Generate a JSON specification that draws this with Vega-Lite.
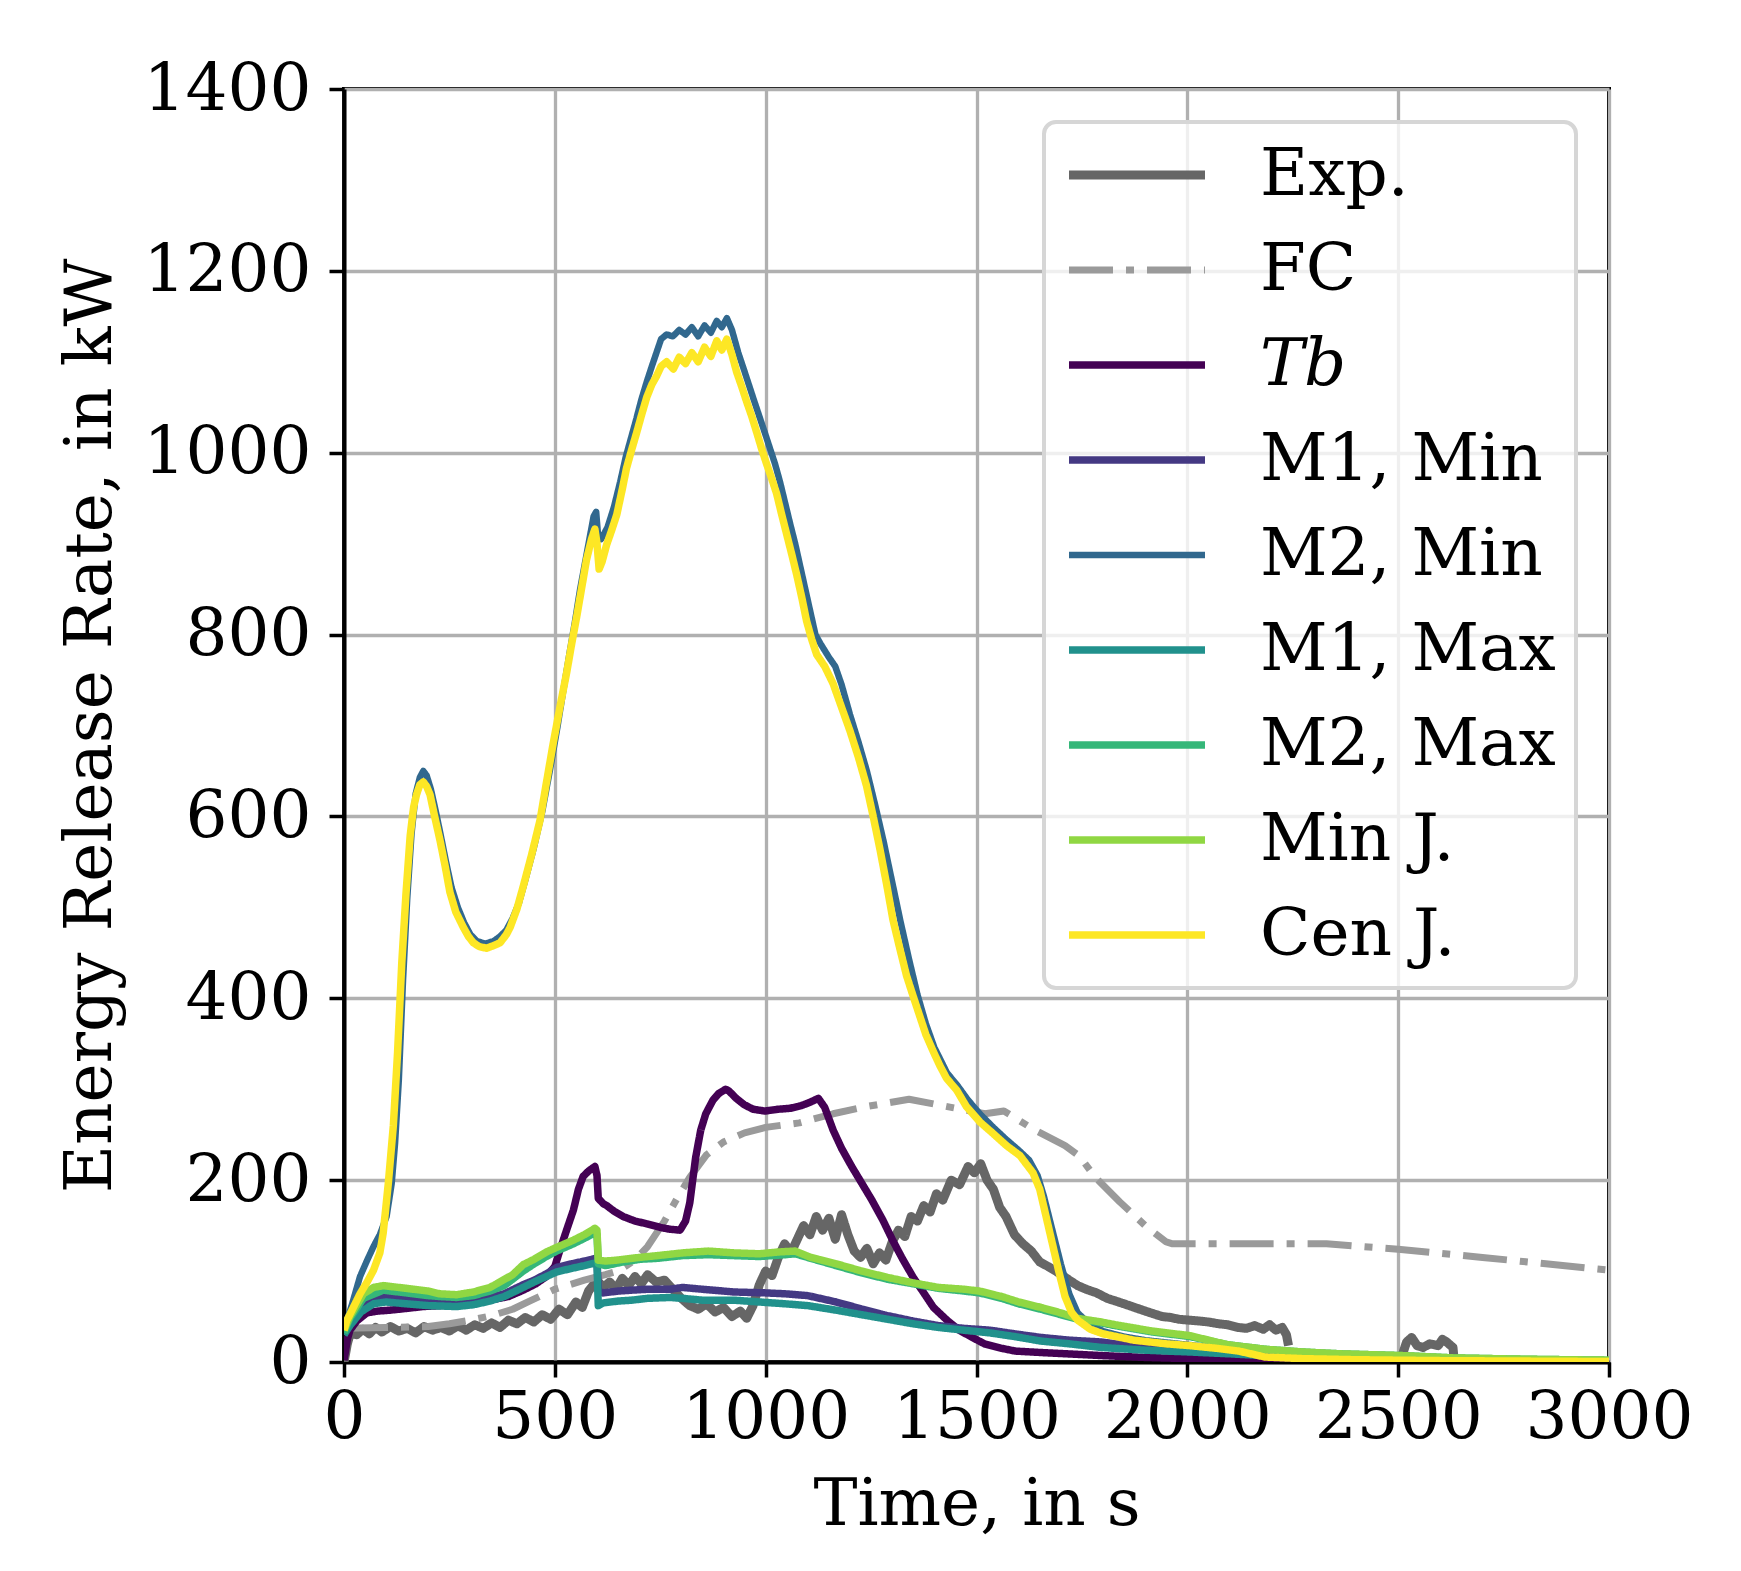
{
  "$schema": "https://vega.github.io/schema/vega-lite/v6.json",
  "width": 1265,
  "height": 1273,
  "autosize": {"type": "none"},
  "padding": {"left": 344, "top": 89, "right": 132, "bottom": 209},
  "background": "white",
  "config": {
    "font": "DejaVu Serif",
    "view": {"stroke": "black", "strokeWidth": 4},
    "axis": {
      "labelFont": "DejaVu Serif", "labelFontSize": 66, "labelColor": "black", "labelLimit": 400,
      "titleFont": "DejaVu Serif", "titleFontSize": 66, "titleFontWeight": "normal", "titleColor": "black",
      "tickColor": "black", "tickSize": 15, "tickWidth": 3.5,
      "domainColor": "black", "domainWidth": 4,
      "gridColor": "#b0b0b0", "gridWidth": 3.3,
      "labelFlush": false, "labelOverlap": false, "format": "d"
    },
    "legend": {
      "orient": "top-right", "offset": 33, "padding": 20,
      "fillColor": "rgba(255,255,255,0.8)", "strokeColor": "#d6d6d6", "cornerRadius": 12, "strokeWidth": 4,
      "symbolType": "stroke", "symbolSize": 18500, "symbolStrokeWidth": 6.5,
      "labelFont": "DejaVu Serif", "labelFontSize": 66, "labelColor": "black",
      "labelOffset": 50, "rowPadding": 29, "clipHeight": 66, "labelLimit": 800
    }
  },
  "data": {"values": [
    {"series":"Exp.","t":0,"v":0},{"series":"Exp.","t":8,"v":20},{"series":"Exp.","t":15,"v":32},{"series":"Exp.","t":30,"v":30},{"series":"Exp.","t":45,"v":36},{"series":"Exp.","t":60,"v":31},{"series":"Exp.","t":75,"v":38},{"series":"Exp.","t":90,"v":33},{"series":"Exp.","t":110,"v":39},{"series":"Exp.","t":130,"v":34},{"series":"Exp.","t":150,"v":37},{"series":"Exp.","t":170,"v":32},{"series":"Exp.","t":190,"v":39},{"series":"Exp.","t":210,"v":35},{"series":"Exp.","t":230,"v":38},{"series":"Exp.","t":250,"v":34},{"series":"Exp.","t":270,"v":40},{"series":"Exp.","t":290,"v":35},{"series":"Exp.","t":310,"v":41},{"series":"Exp.","t":330,"v":37},{"series":"Exp.","t":350,"v":43},{"series":"Exp.","t":370,"v":38},{"series":"Exp.","t":390,"v":46},{"series":"Exp.","t":410,"v":42},{"series":"Exp.","t":430,"v":49},{"series":"Exp.","t":450,"v":44},{"series":"Exp.","t":470,"v":52},{"series":"Exp.","t":490,"v":47},{"series":"Exp.","t":510,"v":58},{"series":"Exp.","t":530,"v":52},{"series":"Exp.","t":550,"v":66},{"series":"Exp.","t":565,"v":60},{"series":"Exp.","t":580,"v":78},{"series":"Exp.","t":600,"v":90},{"series":"Exp.","t":615,"v":82},{"series":"Exp.","t":630,"v":88},{"series":"Exp.","t":645,"v":80},{"series":"Exp.","t":660,"v":92},{"series":"Exp.","t":675,"v":84},{"series":"Exp.","t":690,"v":94},{"series":"Exp.","t":705,"v":86},{"series":"Exp.","t":720,"v":96},{"series":"Exp.","t":740,"v":88},{"series":"Exp.","t":760,"v":90},{"series":"Exp.","t":780,"v":80},{"series":"Exp.","t":800,"v":70},{"series":"Exp.","t":820,"v":62},{"series":"Exp.","t":840,"v":58},{"series":"Exp.","t":860,"v":64},{"series":"Exp.","t":880,"v":55},{"series":"Exp.","t":900,"v":60},{"series":"Exp.","t":920,"v":50},{"series":"Exp.","t":940,"v":56},{"series":"Exp.","t":955,"v":48},{"series":"Exp.","t":970,"v":62},{"series":"Exp.","t":985,"v":85},{"series":"Exp.","t":1000,"v":100},{"series":"Exp.","t":1015,"v":95},{"series":"Exp.","t":1030,"v":115},{"series":"Exp.","t":1045,"v":130},{"series":"Exp.","t":1060,"v":120},{"series":"Exp.","t":1075,"v":135},{"series":"Exp.","t":1090,"v":150},{"series":"Exp.","t":1105,"v":140},{"series":"Exp.","t":1120,"v":160},{"series":"Exp.","t":1135,"v":145},{"series":"Exp.","t":1150,"v":158},{"series":"Exp.","t":1165,"v":135},{"series":"Exp.","t":1180,"v":162},{"series":"Exp.","t":1195,"v":140},{"series":"Exp.","t":1210,"v":122},{"series":"Exp.","t":1225,"v":115},{"series":"Exp.","t":1240,"v":125},{"series":"Exp.","t":1255,"v":108},{"series":"Exp.","t":1270,"v":120},{"series":"Exp.","t":1285,"v":112},{"series":"Exp.","t":1300,"v":132},{"series":"Exp.","t":1315,"v":145},{"series":"Exp.","t":1330,"v":138},{"series":"Exp.","t":1345,"v":160},{"series":"Exp.","t":1360,"v":155},{"series":"Exp.","t":1375,"v":172},{"series":"Exp.","t":1390,"v":165},{"series":"Exp.","t":1405,"v":185},{"series":"Exp.","t":1420,"v":178},{"series":"Exp.","t":1440,"v":200},{"series":"Exp.","t":1460,"v":195},{"series":"Exp.","t":1480,"v":215},{"series":"Exp.","t":1495,"v":208},{"series":"Exp.","t":1510,"v":218},{"series":"Exp.","t":1525,"v":200},{"series":"Exp.","t":1540,"v":190},{"series":"Exp.","t":1555,"v":170},{"series":"Exp.","t":1570,"v":160},{"series":"Exp.","t":1590,"v":140},{"series":"Exp.","t":1610,"v":130},{"series":"Exp.","t":1630,"v":122},{"series":"Exp.","t":1650,"v":110},{"series":"Exp.","t":1670,"v":105},{"series":"Exp.","t":1695,"v":98},{"series":"Exp.","t":1720,"v":90},{"series":"Exp.","t":1740,"v":84},{"series":"Exp.","t":1760,"v":80},{"series":"Exp.","t":1785,"v":76},{"series":"Exp.","t":1810,"v":70},{"series":"Exp.","t":1830,"v":67},{"series":"Exp.","t":1850,"v":64},{"series":"Exp.","t":1875,"v":60},{"series":"Exp.","t":1900,"v":56},{"series":"Exp.","t":1920,"v":53},{"series":"Exp.","t":1940,"v":50},{"series":"Exp.","t":1960,"v":49},{"series":"Exp.","t":1980,"v":47},{"series":"Exp.","t":2005,"v":46},{"series":"Exp.","t":2030,"v":45},{"series":"Exp.","t":2050,"v":44},{"series":"Exp.","t":2075,"v":42},{"series":"Exp.","t":2095,"v":41},{"series":"Exp.","t":2120,"v":38},{"series":"Exp.","t":2140,"v":37},{"series":"Exp.","t":2160,"v":40},{"series":"Exp.","t":2180,"v":36},{"series":"Exp.","t":2195,"v":41},{"series":"Exp.","t":2210,"v":35},{"series":"Exp.","t":2225,"v":38},{"series":"Exp.","t":2235,"v":30},{"series":"Exp.","t":2240,"v":18},
    {"series":"Exp.","seg":2,"t":2510,"v":8},{"series":"Exp.","seg":2,"t":2520,"v":22},{"series":"Exp.","seg":2,"t":2532,"v":27},{"series":"Exp.","seg":2,"t":2545,"v":18},{"series":"Exp.","seg":2,"t":2559,"v":16},{"series":"Exp.","seg":2,"t":2575,"v":20},{"series":"Exp.","seg":2,"t":2595,"v":18},{"series":"Exp.","seg":2,"t":2605,"v":25},{"series":"Exp.","seg":2,"t":2615,"v":22},{"series":"Exp.","seg":2,"t":2630,"v":16},{"series":"Exp.","seg":2,"t":2632,"v":6},
    {"series":"FC","t":0,"v":37},{"series":"FC","t":100,"v":38},{"series":"FC","t":200,"v":39},{"series":"FC","t":250,"v":42},{"series":"FC","t":300,"v":46},{"series":"FC","t":350,"v":51},{"series":"FC","t":400,"v":58},{"series":"FC","t":440,"v":67},{"series":"FC","t":500,"v":80},{"series":"FC","t":570,"v":90},{"series":"FC","t":620,"v":96},{"series":"FC","t":650,"v":100},{"series":"FC","t":690,"v":112},{"series":"FC","t":720,"v":127},{"series":"FC","t":760,"v":155},{"series":"FC","t":790,"v":180},{"series":"FC","t":820,"v":203},{"series":"FC","t":860,"v":228},{"series":"FC","t":900,"v":242},{"series":"FC","t":950,"v":252},{"series":"FC","t":1000,"v":258},{"series":"FC","t":1080,"v":263},{"series":"FC","t":1160,"v":273},{"series":"FC","t":1240,"v":281},{"series":"FC","t":1340,"v":289},{"series":"FC","t":1440,"v":280},{"series":"FC","t":1520,"v":273},{"series":"FC","t":1565,"v":276},{"series":"FC","t":1635,"v":256},{"series":"FC","t":1710,"v":238},{"series":"FC","t":1745,"v":226},{"series":"FC","t":1780,"v":204},{"series":"FC","t":1840,"v":176},{"series":"FC","t":1900,"v":150},{"series":"FC","t":1950,"v":132},{"series":"FC","t":1965,"v":130},{"series":"FC","t":2330,"v":130},{"series":"FC","t":2500,"v":124},{"series":"FC","t":2700,"v":115},{"series":"FC","t":2850,"v":108},{"series":"FC","t":3000,"v":101},
    {"series":"𝑇𝑏","t":0,"v":2},{"series":"𝑇𝑏","t":8,"v":25},{"series":"𝑇𝑏","t":14,"v":35},{"series":"𝑇𝑏","t":30,"v":45},{"series":"𝑇𝑏","t":54,"v":54},{"series":"𝑇𝑏","t":80,"v":56},{"series":"𝑇𝑏","t":109,"v":57},{"series":"𝑇𝑏","t":150,"v":59},{"series":"𝑇𝑏","t":188,"v":61},{"series":"𝑇𝑏","t":230,"v":62},{"series":"𝑇𝑏","t":267,"v":63},{"series":"𝑇𝑏","t":310,"v":65},{"series":"𝑇𝑏","t":346,"v":68},{"series":"𝑇𝑏","t":390,"v":72},{"series":"𝑇𝑏","t":425,"v":79},{"series":"𝑇𝑏","t":455,"v":86},{"series":"𝑇𝑏","t":480,"v":94},{"series":"𝑇𝑏","t":500,"v":105},{"series":"𝑇𝑏","t":512,"v":123},{"series":"𝑇𝑏","t":530,"v":148},{"series":"𝑇𝑏","t":544,"v":167},{"series":"𝑇𝑏","t":556,"v":190},{"series":"𝑇𝑏","t":567,"v":204},{"series":"𝑇𝑏","t":580,"v":210},{"series":"𝑇𝑏","t":595,"v":215},{"series":"𝑇𝑏","t":600,"v":205},{"series":"𝑇𝑏","t":603,"v":180},{"series":"𝑇𝑏","t":615,"v":174},{"series":"𝑇𝑏","t":623,"v":172},{"series":"𝑇𝑏","t":640,"v":166},{"series":"𝑇𝑏","t":662,"v":160},{"series":"𝑇𝑏","t":690,"v":155},{"series":"𝑇𝑏","t":718,"v":152},{"series":"𝑇𝑏","t":750,"v":148},{"series":"𝑇𝑏","t":773,"v":146},{"series":"𝑇𝑏","t":797,"v":145},{"series":"𝑇𝑏","t":810,"v":155},{"series":"𝑇𝑏","t":820,"v":175},{"series":"𝑇𝑏","t":834,"v":225},{"series":"𝑇𝑏","t":846,"v":255},{"series":"𝑇𝑏","t":858,"v":273},{"series":"𝑇𝑏","t":875,"v":288},{"series":"𝑇𝑏","t":888,"v":295},{"series":"𝑇𝑏","t":905,"v":300},{"series":"𝑇𝑏","t":913,"v":298},{"series":"𝑇𝑏","t":930,"v":290},{"series":"𝑇𝑏","t":949,"v":283},{"series":"𝑇𝑏","t":970,"v":278},{"series":"𝑇𝑏","t":998,"v":276},{"series":"𝑇𝑏","t":1030,"v":278},{"series":"𝑇𝑏","t":1058,"v":279},{"series":"𝑇𝑏","t":1085,"v":282},{"series":"𝑇𝑏","t":1107,"v":286},{"series":"𝑇𝑏","t":1125,"v":290},{"series":"𝑇𝑏","t":1140,"v":280},{"series":"𝑇𝑏","t":1160,"v":255},{"series":"𝑇𝑏","t":1180,"v":235},{"series":"𝑇𝑏","t":1204,"v":215},{"series":"𝑇𝑏","t":1230,"v":195},{"series":"𝑇𝑏","t":1252,"v":178},{"series":"𝑇𝑏","t":1278,"v":156},{"series":"𝑇𝑏","t":1301,"v":134},{"series":"𝑇𝑏","t":1325,"v":113},{"series":"𝑇𝑏","t":1350,"v":93},{"series":"𝑇𝑏","t":1375,"v":76},{"series":"𝑇𝑏","t":1398,"v":60},{"series":"𝑇𝑏","t":1430,"v":46},{"series":"𝑇𝑏","t":1459,"v":35},{"series":"𝑇𝑏","t":1490,"v":27},{"series":"𝑇𝑏","t":1519,"v":20},{"series":"𝑇𝑏","t":1560,"v":15},{"series":"𝑇𝑏","t":1592,"v":12},{"series":"𝑇𝑏","t":1650,"v":10.5},{"series":"𝑇𝑏","t":1714,"v":9},{"series":"𝑇𝑏","t":1800,"v":7},{"series":"𝑇𝑏","t":1900,"v":5},{"series":"𝑇𝑏","t":2006,"v":3.7},{"series":"𝑇𝑏","t":2100,"v":2.5},{"series":"𝑇𝑏","t":2200,"v":1.5},{"series":"𝑇𝑏","t":2400,"v":0.8},{"series":"𝑇𝑏","t":2700,"v":0.4},{"series":"𝑇𝑏","t":3000,"v":0.2},
    {"series":"M1, Min","t":0,"v":30},{"series":"M1, Min","t":14,"v":42},{"series":"M1, Min","t":40,"v":60},{"series":"M1, Min","t":70,"v":70},{"series":"M1, Min","t":100,"v":72},{"series":"M1, Min","t":148,"v":70},{"series":"M1, Min","t":200,"v":68},{"series":"M1, Min","t":267,"v":66},{"series":"M1, Min","t":300,"v":67},{"series":"M1, Min","t":346,"v":71},{"series":"M1, Min","t":380,"v":75},{"series":"M1, Min","t":425,"v":85},{"series":"M1, Min","t":451,"v":90},{"series":"M1, Min","t":480,"v":97},{"series":"M1, Min","t":504,"v":104},{"series":"M1, Min","t":540,"v":108},{"series":"M1, Min","t":570,"v":111},{"series":"M1, Min","t":597,"v":114},{"series":"M1, Min","t":600,"v":114},{"series":"M1, Min","t":603,"v":78},{"series":"M1, Min","t":615,"v":76},{"series":"M1, Min","t":650,"v":78},{"series":"M1, Min","t":682,"v":79},{"series":"M1, Min","t":720,"v":80},{"series":"M1, Min","t":773,"v":80},{"series":"M1, Min","t":803,"v":82},{"series":"M1, Min","t":850,"v":80},{"series":"M1, Min","t":925,"v":77},{"series":"M1, Min","t":1000,"v":76},{"series":"M1, Min","t":1046,"v":75},{"series":"M1, Min","t":1100,"v":73},{"series":"M1, Min","t":1167,"v":66},{"series":"M1, Min","t":1230,"v":58},{"series":"M1, Min","t":1289,"v":51},{"series":"M1, Min","t":1350,"v":45},{"series":"M1, Min","t":1410,"v":40},{"series":"M1, Min","t":1470,"v":37},{"series":"M1, Min","t":1532,"v":35},{"series":"M1, Min","t":1590,"v":31},{"series":"M1, Min","t":1653,"v":27},{"series":"M1, Min","t":1720,"v":24},{"series":"M1, Min","t":1796,"v":22},{"series":"M1, Min","t":1829,"v":20},{"series":"M1, Min","t":1900,"v":17},{"series":"M1, Min","t":2006,"v":13},{"series":"M1, Min","t":2100,"v":10},{"series":"M1, Min","t":2200,"v":8},{"series":"M1, Min","t":2300,"v":6.5},{"series":"M1, Min","t":2500,"v":4},{"series":"M1, Min","t":2700,"v":2.5},{"series":"M1, Min","t":3000,"v":1},
    {"series":"M2, Min","t":0,"v":35},{"series":"M2, Min","t":10,"v":50},{"series":"M2, Min","t":20,"v":65},{"series":"M2, Min","t":38,"v":94},{"series":"M2, Min","t":55,"v":112},{"series":"M2, Min","t":70,"v":127},{"series":"M2, Min","t":85,"v":140},{"series":"M2, Min","t":101,"v":160},{"series":"M2, Min","t":113,"v":196},{"series":"M2, Min","t":121,"v":240},{"series":"M2, Min","t":130,"v":310},{"series":"M2, Min","t":140,"v":420},{"series":"M2, Min","t":150,"v":510},{"series":"M2, Min","t":160,"v":580},{"series":"M2, Min","t":170,"v":625},{"series":"M2, Min","t":180,"v":643},{"series":"M2, Min","t":188,"v":650},{"series":"M2, Min","t":196,"v":645},{"series":"M2, Min","t":206,"v":630},{"series":"M2, Min","t":218,"v":605},{"series":"M2, Min","t":230,"v":578},{"series":"M2, Min","t":242,"v":550},{"series":"M2, Min","t":255,"v":522},{"series":"M2, Min","t":270,"v":500},{"series":"M2, Min","t":285,"v":483},{"series":"M2, Min","t":300,"v":470},{"series":"M2, Min","t":315,"v":463},{"series":"M2, Min","t":335,"v":460},{"series":"M2, Min","t":355,"v":463},{"series":"M2, Min","t":370,"v":468},{"series":"M2, Min","t":385,"v":475},{"series":"M2, Min","t":400,"v":488},{"series":"M2, Min","t":415,"v":505},{"series":"M2, Min","t":430,"v":530},{"series":"M2, Min","t":450,"v":565},{"series":"M2, Min","t":470,"v":605},{"series":"M2, Min","t":488,"v":650},{"series":"M2, Min","t":505,"v":695},{"series":"M2, Min","t":520,"v":738},{"series":"M2, Min","t":535,"v":780},{"series":"M2, Min","t":548,"v":815},{"series":"M2, Min","t":560,"v":850},{"series":"M2, Min","t":572,"v":880},{"series":"M2, Min","t":582,"v":905},{"series":"M2, Min","t":592,"v":930},{"series":"M2, Min","t":598,"v":935},{"series":"M2, Min","t":602,"v":912},{"series":"M2, Min","t":610,"v":905},{"series":"M2, Min","t":625,"v":918},{"series":"M2, Min","t":640,"v":940},{"series":"M2, Min","t":655,"v":968},{"series":"M2, Min","t":668,"v":995},{"series":"M2, Min","t":680,"v":1015},{"series":"M2, Min","t":692,"v":1035},{"series":"M2, Min","t":705,"v":1058},{"series":"M2, Min","t":718,"v":1078},{"series":"M2, Min","t":730,"v":1095},{"series":"M2, Min","t":741,"v":1110},{"series":"M2, Min","t":752,"v":1125},{"series":"M2, Min","t":765,"v":1130},{"series":"M2, Min","t":780,"v":1128},{"series":"M2, Min","t":795,"v":1135},{"series":"M2, Min","t":810,"v":1130},{"series":"M2, Min","t":825,"v":1138},{"series":"M2, Min","t":840,"v":1128},{"series":"M2, Min","t":855,"v":1140},{"series":"M2, Min","t":870,"v":1132},{"series":"M2, Min","t":884,"v":1145},{"series":"M2, Min","t":896,"v":1138},{"series":"M2, Min","t":908,"v":1148},{"series":"M2, Min","t":920,"v":1135},{"series":"M2, Min","t":935,"v":1110},{"series":"M2, Min","t":948,"v":1092},{"series":"M2, Min","t":960,"v":1075},{"series":"M2, Min","t":972,"v":1058},{"series":"M2, Min","t":985,"v":1040},{"series":"M2, Min","t":998,"v":1022},{"series":"M2, Min","t":1010,"v":1005},{"series":"M2, Min","t":1022,"v":988},{"series":"M2, Min","t":1034,"v":968},{"series":"M2, Min","t":1046,"v":945},{"series":"M2, Min","t":1058,"v":922},{"series":"M2, Min","t":1070,"v":900},{"series":"M2, Min","t":1082,"v":875},{"series":"M2, Min","t":1094,"v":850},{"series":"M2, Min","t":1106,"v":825},{"series":"M2, Min","t":1118,"v":800},{"series":"M2, Min","t":1130,"v":790},{"series":"M2, Min","t":1150,"v":775},{"series":"M2, Min","t":1165,"v":765},{"series":"M2, Min","t":1180,"v":745},{"series":"M2, Min","t":1200,"v":712},{"series":"M2, Min","t":1220,"v":682},{"series":"M2, Min","t":1240,"v":650},{"series":"M2, Min","t":1260,"v":612},{"series":"M2, Min","t":1280,"v":572},{"series":"M2, Min","t":1300,"v":528},{"series":"M2, Min","t":1320,"v":484},{"series":"M2, Min","t":1340,"v":443},{"series":"M2, Min","t":1360,"v":404},{"series":"M2, Min","t":1380,"v":372},{"series":"M2, Min","t":1400,"v":346},{"series":"M2, Min","t":1430,"v":318},{"series":"M2, Min","t":1455,"v":304},{"series":"M2, Min","t":1480,"v":288},{"series":"M2, Min","t":1510,"v":272},{"series":"M2, Min","t":1540,"v":258},{"series":"M2, Min","t":1570,"v":245},{"series":"M2, Min","t":1600,"v":233},{"series":"M2, Min","t":1625,"v":222},{"series":"M2, Min","t":1645,"v":205},{"series":"M2, Min","t":1660,"v":182},{"series":"M2, Min","t":1680,"v":145},{"series":"M2, Min","t":1700,"v":108},{"series":"M2, Min","t":1720,"v":75},{"series":"M2, Min","t":1740,"v":54},{"series":"M2, Min","t":1770,"v":41},{"series":"M2, Min","t":1800,"v":34},{"series":"M2, Min","t":1850,"v":28},{"series":"M2, Min","t":1900,"v":24},{"series":"M2, Min","t":2000,"v":19},{"series":"M2, Min","t":2100,"v":14},{"series":"M2, Min","t":2190,"v":8},{"series":"M2, Min","t":2300,"v":5},{"series":"M2, Min","t":2500,"v":3},{"series":"M2, Min","t":2700,"v":1.5},{"series":"M2, Min","t":3000,"v":0.5},
    {"series":"M1, Max","t":0,"v":30},{"series":"M1, Max","t":14,"v":40},{"series":"M1, Max","t":40,"v":55},{"series":"M1, Max","t":70,"v":64},{"series":"M1, Max","t":100,"v":66},{"series":"M1, Max","t":148,"v":64},{"series":"M1, Max","t":200,"v":62},{"series":"M1, Max","t":267,"v":61},{"series":"M1, Max","t":307,"v":63},{"series":"M1, Max","t":346,"v":67},{"series":"M1, Max","t":380,"v":72},{"series":"M1, Max","t":425,"v":82},{"series":"M1, Max","t":451,"v":88},{"series":"M1, Max","t":480,"v":94},{"series":"M1, Max","t":504,"v":99},{"series":"M1, Max","t":540,"v":103},{"series":"M1, Max","t":570,"v":106},{"series":"M1, Max","t":597,"v":109},{"series":"M1, Max","t":600,"v":108},{"series":"M1, Max","t":603,"v":62},{"series":"M1, Max","t":615,"v":65},{"series":"M1, Max","t":650,"v":67},{"series":"M1, Max","t":682,"v":68},{"series":"M1, Max","t":720,"v":70},{"series":"M1, Max","t":773,"v":71},{"series":"M1, Max","t":803,"v":70},{"series":"M1, Max","t":850,"v":68},{"series":"M1, Max","t":925,"v":68},{"series":"M1, Max","t":985,"v":66},{"series":"M1, Max","t":1046,"v":64},{"series":"M1, Max","t":1100,"v":62},{"series":"M1, Max","t":1167,"v":57},{"series":"M1, Max","t":1228,"v":52},{"series":"M1, Max","t":1289,"v":47},{"series":"M1, Max","t":1350,"v":42},{"series":"M1, Max","t":1410,"v":38},{"series":"M1, Max","t":1470,"v":35},{"series":"M1, Max","t":1532,"v":32},{"series":"M1, Max","t":1590,"v":28},{"series":"M1, Max","t":1653,"v":23},{"series":"M1, Max","t":1720,"v":20},{"series":"M1, Max","t":1796,"v":16},{"series":"M1, Max","t":1829,"v":15},{"series":"M1, Max","t":1900,"v":13},{"series":"M1, Max","t":2006,"v":11},{"series":"M1, Max","t":2100,"v":9},{"series":"M1, Max","t":2184,"v":7},{"series":"M1, Max","t":2300,"v":5.5},{"series":"M1, Max","t":2500,"v":3.5},{"series":"M1, Max","t":2700,"v":2},{"series":"M1, Max","t":3000,"v":1},
    {"series":"M2, Max","t":0,"v":32},{"series":"M2, Max","t":14,"v":48},{"series":"M2, Max","t":46,"v":70},{"series":"M2, Max","t":93,"v":79},{"series":"M2, Max","t":148,"v":76},{"series":"M2, Max","t":200,"v":73},{"series":"M2, Max","t":227,"v":72},{"series":"M2, Max","t":267,"v":71},{"series":"M2, Max","t":307,"v":73},{"series":"M2, Max","t":346,"v":78},{"series":"M2, Max","t":380,"v":84},{"series":"M2, Max","t":425,"v":100},{"series":"M2, Max","t":451,"v":108},{"series":"M2, Max","t":480,"v":116},{"series":"M2, Max","t":504,"v":122},{"series":"M2, Max","t":544,"v":130},{"series":"M2, Max","t":570,"v":136},{"series":"M2, Max","t":595,"v":142},{"series":"M2, Max","t":600,"v":140},{"series":"M2, Max","t":603,"v":108},{"series":"M2, Max","t":620,"v":106},{"series":"M2, Max","t":662,"v":110},{"series":"M2, Max","t":703,"v":113},{"series":"M2, Max","t":743,"v":114},{"series":"M2, Max","t":803,"v":117},{"series":"M2, Max","t":864,"v":118},{"series":"M2, Max","t":925,"v":117},{"series":"M2, Max","t":985,"v":116},{"series":"M2, Max","t":1046,"v":118},{"series":"M2, Max","t":1070,"v":119},{"series":"M2, Max","t":1107,"v":114},{"series":"M2, Max","t":1167,"v":106},{"series":"M2, Max","t":1228,"v":98},{"series":"M2, Max","t":1289,"v":91},{"series":"M2, Max","t":1350,"v":86},{"series":"M2, Max","t":1410,"v":81},{"series":"M2, Max","t":1471,"v":78},{"series":"M2, Max","t":1507,"v":76},{"series":"M2, Max","t":1560,"v":70},{"series":"M2, Max","t":1600,"v":64},{"series":"M2, Max","t":1653,"v":58},{"series":"M2, Max","t":1700,"v":52},{"series":"M2, Max","t":1740,"v":47},{"series":"M2, Max","t":1796,"v":43},{"series":"M2, Max","t":1829,"v":40},{"series":"M2, Max","t":1917,"v":33},{"series":"M2, Max","t":2006,"v":28},{"series":"M2, Max","t":2095,"v":19},{"series":"M2, Max","t":2184,"v":14},{"series":"M2, Max","t":2273,"v":11},{"series":"M2, Max","t":2362,"v":9},{"series":"M2, Max","t":2512,"v":7},{"series":"M2, Max","t":2631,"v":4.5},{"series":"M2, Max","t":2808,"v":3},{"series":"M2, Max","t":3000,"v":2},
    {"series":"Min J.","t":0,"v":35},{"series":"Min J.","t":14,"v":50},{"series":"Min J.","t":46,"v":75},{"series":"Min J.","t":70,"v":82},{"series":"Min J.","t":93,"v":84},{"series":"Min J.","t":148,"v":81},{"series":"Min J.","t":200,"v":78},{"series":"Min J.","t":227,"v":75},{"series":"Min J.","t":267,"v":74},{"series":"Min J.","t":307,"v":77},{"series":"Min J.","t":346,"v":82},{"series":"Min J.","t":362,"v":86},{"series":"Min J.","t":400,"v":96},{"series":"Min J.","t":425,"v":107},{"series":"Min J.","t":451,"v":113},{"series":"Min J.","t":480,"v":121},{"series":"Min J.","t":504,"v":126},{"series":"Min J.","t":544,"v":134},{"series":"Min J.","t":570,"v":140},{"series":"Min J.","t":595,"v":147},{"series":"Min J.","t":600,"v":145},{"series":"Min J.","t":603,"v":112},{"series":"Min J.","t":620,"v":111},{"series":"Min J.","t":646,"v":112},{"series":"Min J.","t":700,"v":115},{"series":"Min J.","t":743,"v":117},{"series":"Min J.","t":803,"v":120},{"series":"Min J.","t":864,"v":122},{"series":"Min J.","t":925,"v":120},{"series":"Min J.","t":985,"v":119},{"series":"Min J.","t":1030,"v":121},{"series":"Min J.","t":1070,"v":122},{"series":"Min J.","t":1107,"v":115},{"series":"Min J.","t":1167,"v":108},{"series":"Min J.","t":1228,"v":100},{"series":"Min J.","t":1289,"v":93},{"series":"Min J.","t":1350,"v":87},{"series":"Min J.","t":1410,"v":82},{"series":"Min J.","t":1471,"v":80},{"series":"Min J.","t":1507,"v":78},{"series":"Min J.","t":1560,"v":72},{"series":"Min J.","t":1600,"v":66},{"series":"Min J.","t":1653,"v":60},{"series":"Min J.","t":1700,"v":54},{"series":"Min J.","t":1740,"v":48},{"series":"Min J.","t":1796,"v":44},{"series":"Min J.","t":1829,"v":41},{"series":"Min J.","t":1917,"v":34},{"series":"Min J.","t":2006,"v":29},{"series":"Min J.","t":2095,"v":19},{"series":"Min J.","t":2184,"v":14},{"series":"Min J.","t":2273,"v":11},{"series":"Min J.","t":2362,"v":9},{"series":"Min J.","t":2512,"v":7},{"series":"Min J.","t":2631,"v":4.5},{"series":"Min J.","t":2808,"v":3},{"series":"Min J.","t":3000,"v":2},
    {"series":"Cen J.","t":0,"v":35},{"series":"Cen J.","t":6,"v":45},{"series":"Cen J.","t":20,"v":58},{"series":"Cen J.","t":38,"v":75},{"series":"Cen J.","t":55,"v":88},{"series":"Cen J.","t":70,"v":101},{"series":"Cen J.","t":85,"v":120},{"series":"Cen J.","t":93,"v":142},{"series":"Cen J.","t":105,"v":196},{"series":"Cen J.","t":117,"v":260},{"series":"Cen J.","t":127,"v":340},{"series":"Cen J.","t":137,"v":439},{"series":"Cen J.","t":147,"v":515},{"series":"Cen J.","t":157,"v":579},{"series":"Cen J.","t":165,"v":610},{"series":"Cen J.","t":172,"v":624},{"series":"Cen J.","t":180,"v":635},{"series":"Cen J.","t":188,"v":638},{"series":"Cen J.","t":196,"v":633},{"series":"Cen J.","t":204,"v":624},{"series":"Cen J.","t":215,"v":600},{"series":"Cen J.","t":228,"v":573},{"series":"Cen J.","t":240,"v":545},{"series":"Cen J.","t":251,"v":517},{"series":"Cen J.","t":265,"v":495},{"series":"Cen J.","t":283,"v":478},{"series":"Cen J.","t":295,"v":468},{"series":"Cen J.","t":307,"v":461},{"series":"Cen J.","t":320,"v":457},{"series":"Cen J.","t":338,"v":455},{"series":"Cen J.","t":355,"v":458},{"series":"Cen J.","t":370,"v":461},{"series":"Cen J.","t":385,"v":470},{"series":"Cen J.","t":394,"v":478},{"series":"Cen J.","t":410,"v":498},{"series":"Cen J.","t":425,"v":523},{"series":"Cen J.","t":445,"v":558},{"series":"Cen J.","t":465,"v":596},{"series":"Cen J.","t":480,"v":637},{"series":"Cen J.","t":496,"v":680},{"series":"Cen J.","t":512,"v":720},{"series":"Cen J.","t":528,"v":758},{"series":"Cen J.","t":540,"v":790},{"series":"Cen J.","t":552,"v":820},{"series":"Cen J.","t":565,"v":855},{"series":"Cen J.","t":575,"v":882},{"series":"Cen J.","t":587,"v":905},{"series":"Cen J.","t":595,"v":916},{"series":"Cen J.","t":600,"v":900},{"series":"Cen J.","t":605,"v":872},{"series":"Cen J.","t":612,"v":880},{"series":"Cen J.","t":623,"v":899},{"series":"Cen J.","t":635,"v":915},{"series":"Cen J.","t":647,"v":932},{"series":"Cen J.","t":660,"v":960},{"series":"Cen J.","t":670,"v":983},{"series":"Cen J.","t":682,"v":1003},{"series":"Cen J.","t":694,"v":1022},{"series":"Cen J.","t":706,"v":1042},{"series":"Cen J.","t":718,"v":1061},{"series":"Cen J.","t":730,"v":1075},{"series":"Cen J.","t":741,"v":1084},{"series":"Cen J.","t":752,"v":1095},{"series":"Cen J.","t":765,"v":1100},{"series":"Cen J.","t":781,"v":1092},{"series":"Cen J.","t":795,"v":1105},{"series":"Cen J.","t":810,"v":1098},{"series":"Cen J.","t":825,"v":1110},{"series":"Cen J.","t":840,"v":1100},{"series":"Cen J.","t":855,"v":1116},{"series":"Cen J.","t":870,"v":1106},{"series":"Cen J.","t":884,"v":1123},{"series":"Cen J.","t":896,"v":1113},{"series":"Cen J.","t":908,"v":1125},{"series":"Cen J.","t":920,"v":1108},{"series":"Cen J.","t":931,"v":1089},{"series":"Cen J.","t":943,"v":1073},{"series":"Cen J.","t":955,"v":1056},{"series":"Cen J.","t":967,"v":1040},{"series":"Cen J.","t":979,"v":1022},{"series":"Cen J.","t":990,"v":1005},{"series":"Cen J.","t":1002,"v":988},{"series":"Cen J.","t":1014,"v":972},{"series":"Cen J.","t":1026,"v":955},{"series":"Cen J.","t":1038,"v":932},{"series":"Cen J.","t":1050,"v":910},{"series":"Cen J.","t":1062,"v":888},{"series":"Cen J.","t":1074,"v":865},{"series":"Cen J.","t":1086,"v":840},{"series":"Cen J.","t":1097,"v":815},{"series":"Cen J.","t":1109,"v":795},{"series":"Cen J.","t":1121,"v":778},{"series":"Cen J.","t":1140,"v":765},{"series":"Cen J.","t":1160,"v":746},{"series":"Cen J.","t":1180,"v":720},{"series":"Cen J.","t":1200,"v":694},{"series":"Cen J.","t":1220,"v":665},{"series":"Cen J.","t":1239,"v":634},{"series":"Cen J.","t":1255,"v":600},{"series":"Cen J.","t":1271,"v":564},{"series":"Cen J.","t":1287,"v":525},{"series":"Cen J.","t":1302,"v":486},{"series":"Cen J.","t":1318,"v":455},{"series":"Cen J.","t":1334,"v":425},{"series":"Cen J.","t":1350,"v":402},{"series":"Cen J.","t":1365,"v":381},{"series":"Cen J.","t":1380,"v":360},{"series":"Cen J.","t":1397,"v":342},{"series":"Cen J.","t":1413,"v":326},{"series":"Cen J.","t":1429,"v":312},{"series":"Cen J.","t":1453,"v":299},{"series":"Cen J.","t":1476,"v":281},{"series":"Cen J.","t":1508,"v":264},{"series":"Cen J.","t":1540,"v":251},{"series":"Cen J.","t":1571,"v":238},{"series":"Cen J.","t":1603,"v":227},{"series":"Cen J.","t":1634,"v":208},{"series":"Cen J.","t":1650,"v":190},{"series":"Cen J.","t":1665,"v":160},{"series":"Cen J.","t":1680,"v":130},{"series":"Cen J.","t":1695,"v":100},{"series":"Cen J.","t":1710,"v":72},{"series":"Cen J.","t":1725,"v":55},{"series":"Cen J.","t":1740,"v":46},{"series":"Cen J.","t":1770,"v":36},{"series":"Cen J.","t":1800,"v":31},{"series":"Cen J.","t":1873,"v":24},{"series":"Cen J.","t":1950,"v":20},{"series":"Cen J.","t":2006,"v":18},{"series":"Cen J.","t":2070,"v":15},{"series":"Cen J.","t":2122,"v":12},{"series":"Cen J.","t":2160,"v":8},{"series":"Cen J.","t":2184,"v":5.5},{"series":"Cen J.","t":2273,"v":3.7},{"series":"Cen J.","t":2400,"v":2.5},{"series":"Cen J.","t":2600,"v":1.5},{"series":"Cen J.","t":3000,"v":0.5}
  ]},
  "mark": {"type": "line", "strokeJoin": "round", "clip": true},
  "encoding": {
    "x": {
      "field": "t", "type": "quantitative",
      "scale": {"domain": [0, 3000], "nice": false},
      "axis": {"values": [0, 500, 1000, 1500, 2000, 2500, 3000], "title": "Time, in s", "labelPadding": 8, "titlePadding": 22}
    },
    "y": {
      "field": "v", "type": "quantitative",
      "scale": {"domain": [0, 1400], "nice": false},
      "axis": {"values": [0, 200, 400, 600, 800, 1000, 1200, 1400], "title": "Energy Release Rate, in kW", "labelPadding": 18, "titlePadding": 20}
    },
    "color": {
      "field": "series", "type": "nominal",
      "scale": {
        "domain": ["Exp.", "FC", "𝑇𝑏", "M1, Min", "M2, Min", "M1, Max", "M2, Max", "Min J.", "Cen J."],
        "range": ["#666666", "#9a9a9a", "#440154", "#443983", "#31688e", "#21918c", "#35b779", "#90d743", "#fde725"]
      },
      "legend": {"title": null, "encode": {"symbols": {"update": {"strokeWidth": {"value": 6.5}}}}}
    },
    "strokeDash": {
      "field": "series", "type": "nominal",
      "scale": {
        "domain": ["Exp.", "FC", "𝑇𝑏", "M1, Min", "M2, Min", "M1, Max", "M2, Max", "Min J.", "Cen J."],
        "range": [[1, 0], [44, 13, 8, 13], [1, 0], [1, 0], [1, 0], [1, 0], [1, 0], [1, 0], [1, 0]]
      },
      "legend": {"title": null, "encode": {"symbols": {"update": {"strokeWidth": {"value": 6.5}}}}}
    },
    "strokeWidth": {
      "field": "series", "type": "nominal",
      "scale": {
        "type": "ordinal",
        "domain": ["Exp.", "FC", "𝑇𝑏", "M1, Min", "M2, Min", "M1, Max", "M2, Max", "Min J.", "Cen J."],
        "range": [9, 7, 7.5, 7.5, 6.5, 7.5, 7.5, 7.5, 7.5]
      },
      "legend": null
    },
    "detail": {"field": "seg"}
  }
}
